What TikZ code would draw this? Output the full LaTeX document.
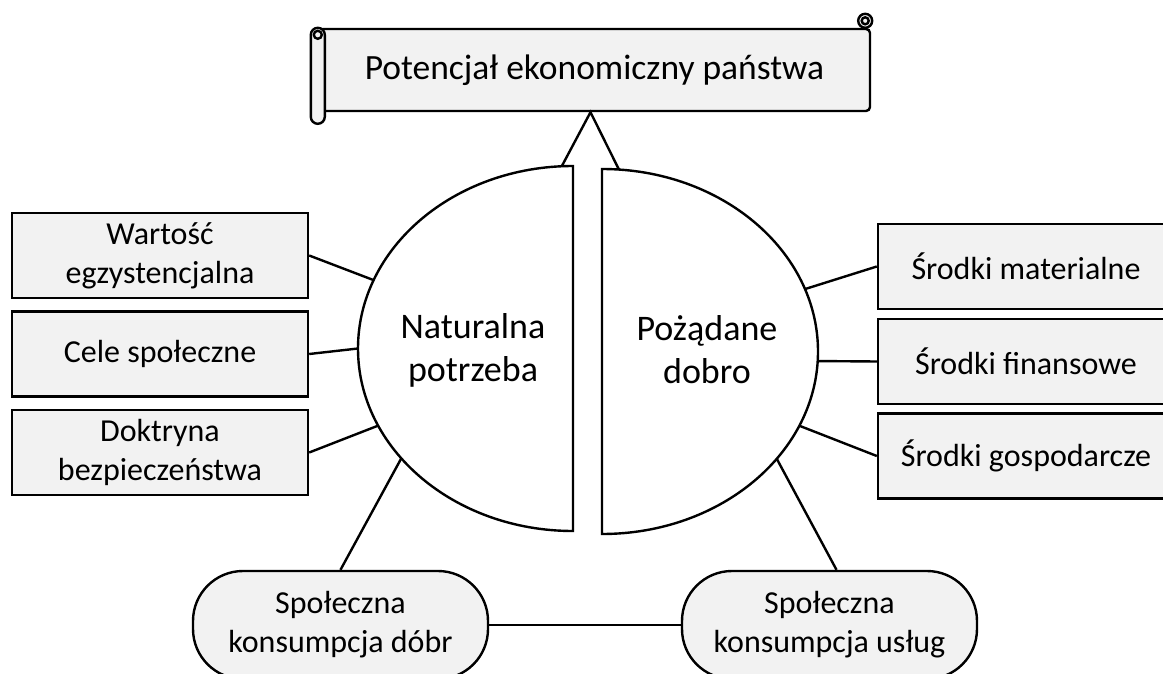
\documentclass[tikz,border=0pt]{standalone}
\usepackage{fontspec}
\setmainfont{Carlito}
\usetikzlibrary{calc}
\definecolor{boxgray}{HTML}{F2F2F2}

\begin{document}
\begin{tikzpicture}[x=1pt,y=-1pt,line width=2.4pt,
    font=\fontsize{32}{39}\selectfont,
    box/.style={draw,fill=boxgray,minimum width=296pt,minimum height=85pt,align=center,inner sep=0pt},
    capsule/.style={draw,fill=boxgray,rounded corners=50pt,minimum width=295pt,minimum height=108pt,align=center,inner sep=0pt},
    txt/.style={align=center,inner sep=0pt,font=\fontsize{36}{43}\selectfont}]
      \clip (0,0) rectangle (1163,674);
      \useasboundingbox (0,0) rectangle (1163,674);
      \coordinate (lc) at (573,348.5);
      \coordinate (rc) at (602,351.5);
      \node[draw,fill=boxgray,rounded corners=4pt,minimum width=551pt,minimum height=82pt,font=\fontsize{35.5}{42}\selectfont] (pot) at (594.5,70) {Potencjał ekonomiczny państwa};
      \draw[fill=boxgray,rounded corners=7pt] ($(pot.north west)+(-7,0)$) rectangle ($(pot.north west)+(7,96)$);
      \draw ($(pot.north west)+(0,7)$) circle (4pt);
      \draw[fill=boxgray,rounded corners=7pt] ($(pot.north east)+(-13,-14)$) rectangle ($(pot.north east)+(1,0)$);
      \draw ($(pot.north east)+(-6,-7)$) circle (3.5pt);
      \coordinate (apex) at ($(pot.south)+(-4,0)$);
      \draw ($(lc)+(267:215 and 182.5)$) -- (apex) -- ($(rc)+(274.5:216 and 182.5)$);
      \draw[fill=white] ($(lc)+(270:215 and 182.5)$) arc[start angle=270,end angle=90,x radius=215,y radius=182.5] -- cycle;
      \draw[fill=white] ($(rc)+(270:216 and 182.5)$) arc[start angle=-90,end angle=90,x radius=216,y radius=182.5] -- cycle;
      \node[txt] (potrzeba) at (473,350) {Naturalna\\potrzeba};
      \node[txt] (dobro) at (707,350) {Pożądane\\dobro};
      \node[box] (wart) at (160,255.5) {Wartość\\egzystencjalna};
      \node[box] (cele) at (160,354) {Cele społeczne};
      \node[box] (dokt) at (160,452.5) {Doktryna\\bezpieczeństwa};
      \node[box] (mat) at (1026,266.5) {Środki materialne};
      \node[box] (fin) at (1026,361.5) {Środki finansowe};
      \node[box] (gosp) at (1026,456) {Środki gospodarcze};
      \node[capsule] (dobr) at (340.5,625) {Społeczna\\konsumpcja dóbr};
      \node[capsule] (uslug) at (829.5,625) {Społeczna\\konsumpcja usług};
      \draw (wart.east) -- ($(lc)+(202:215 and 182.5)$);
      \draw (cele.east) -- ($(lc)+(180:215 and 182.5)$);
      \draw (dokt.east) -- ($(lc)+(155:215 and 182.5)$);
      \draw (mat.west) -- ($(rc)+(340:216 and 182.5)$);
      \draw (fin.west) -- ($(rc)+(3:216 and 182.5)$);
      \draw (gosp.west) -- ($(rc)+(24:216 and 182.5)$);
      \draw ($(lc)+(143:215 and 182.5)$) -- (dobr.north);
      \draw ($(rc)+(36:216 and 182.5)$) -- ($(uslug.north)+(7,0)$);
      \draw (dobr) -- (uslug);
    \end{tikzpicture}
\end{document}
